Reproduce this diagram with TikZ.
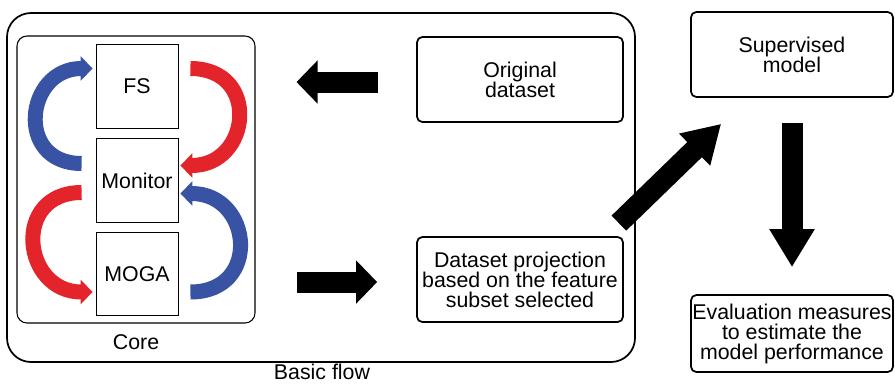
\documentclass[tikz,border=0pt]{standalone}
\usepackage{fontspec}
\setmainfont{Liberation Sans}
\usetikzlibrary{arrows.meta, positioning, calc}
\definecolor{loopblue}{HTML}{3953A4}
\definecolor{loopred}{HTML}{E3242B}

\begin{document}
\begin{tikzpicture}[x=0.75pt, y=-0.75pt, font=\fontsize{16}{15}\selectfont]
\useasboundingbox (0,0) rectangle (895,383);
\tikzset{
  stagebox/.style={rectangle, draw, line width=0.6pt, minimum width=61.5pt, minimum height=62.5pt},
  databox/.style={rectangle, rounded corners=4pt, draw, line width=1.3pt, inner sep=1pt, align=center, minimum width=154.5pt, minimum height=63.75pt},
  cycarrow/.style={line width=11.25pt, -{Triangle[length=9pt, width=18pt]}},
  bigarrow/.style={line width=15.75pt, -{Triangle[length=15.75pt, width=31.5pt]}}
}

% Containers
\node[draw, rounded corners=18pt, line width=1.3pt, minimum width=471pt, minimum height=261.75pt] (basic) at (321,187.5) {};
\node[draw, rounded corners=7.5pt, line width=0.8pt, minimum width=178.5pt, minimum height=215.25pt] (core) at (136,179.5) {};
\node (corelabel) at (136,342) {Core};
\node (basiclabel) at (322,372) {Basic flow};

% Core stages
\node[stagebox] (fs) at (137,86.5) {FS};
\node[stagebox] (mon) at (137,180.5) {Monitor};
\node[stagebox] (moga) at (137,274) {MOGA};

% Loops between stages
\draw[cycarrow, loopblue] ($(mon.west)+(-14,-17)$) to[out=180, in=180, looseness=1.8] ($(fs.west)+(-3,-18)$);
\draw[cycarrow, loopred] ($(fs.east)+(12,-18)$) to[out=0, in=0, looseness=1.85] ($(mon.east)+(2,-15)$);
\draw[cycarrow, loopred] ($(mon.west)+(-14,12)$) to[out=180, in=180, looseness=1.8] ($(moga.west)+(-3,18)$);
\draw[cycarrow, loopblue] ($(moga.east)+(12,18)$) to[out=0, in=0, looseness=1.85] ($(mon.east)+(2,13)$);

% Data boxes
\node[databox] (orig) at (520,79.5) {Original\\dataset};
\node[databox] (proj) at (520,279.5) {Dataset projection\\based on the feature\\subset selected};
\node[databox, minimum width=151.5pt] (sup) at (792,54.5) {Supervised\\model};
\node[databox, minimum width=151.5pt, minimum height=57.75pt] (eval) at (792,333.5) {Evaluation measures\\to estimate the\\model performance};

% Block arrows
\draw[bigarrow, shorten <=28.5pt, shorten >=30.75pt] ([yshift=-1.9pt]orig.west) -- ([yshift=-1.9pt]orig.west -| core.east);
\draw[bigarrow, shorten <=30.75pt, shorten >=29.25pt] ([yshift=-1.9pt]proj.west -| core.east) -- ([yshift=-1.9pt]proj.west);
\coordinate (diagtail) at ($(proj.north east)+(-5,-13)$);
\coordinate (diagtip) at ($(sup.south west)+(31,26)$);
\draw[bigarrow, -{Triangle[length=27.75pt, width=31.5pt]}] (diagtail) -- (diagtip);
\draw[bigarrow, -{Triangle[length=28.5pt, width=32pt]}, shorten <=18.75pt, shorten >=20.25pt] (sup.south) -- (eval.north);
\end{tikzpicture}
\end{document}
